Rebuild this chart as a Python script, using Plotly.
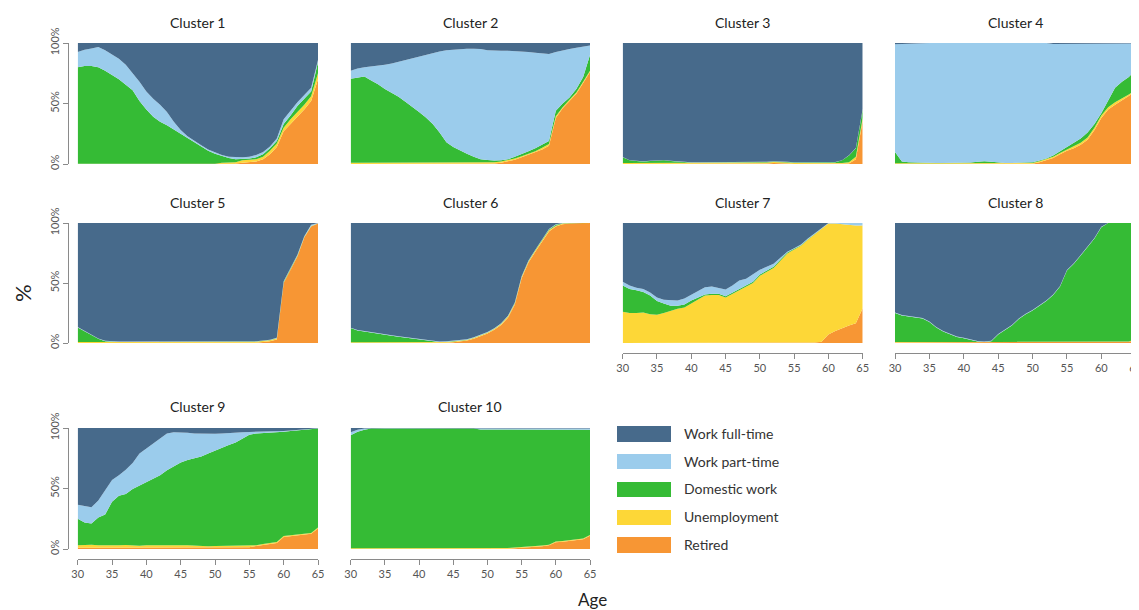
import numpy as np
import plotly.graph_objects as go

# ---------------- data (upper edges of each band, in %) -------------
ages = list(range(30, 66))
states = ["Retired", "Unemployment", "Domestic work", "Work part-time", "Work full-time"]
colors = {"Work full-time": "#476A8B", "Work part-time": "#9BCCEC", "Domestic work": "#35BB35",
          "Unemployment": "#FDD737", "Retired": "#F79634"}
legend_order = ["Work full-time", "Work part-time", "Domestic work", "Unemployment", "Retired"]
x_ticks = [30, 35, 40, 45, 50, 55, 60, 65]

c1_retired = [0,0,0,0,0,0,0,0,0,0, 0,0,0,0,0,0,0,0,0,0, 0,0,0,0.5,1,1.5,2,4,8,14, 27,33,39,45,52,70]
c1_unemp = [0.3,0.3,0.3,0.3,0.3,0.3,0.3,0.3,0.3,0.3, 0.3,0.3,0.3,0.3,0.3,0.3,0.3,0.3,0.3,0.3,
            0.3,1,1,1.5,3,3.5,4,6,11,17, 30,37,43,49,56,75]
c1_domestic = [80,81,81,80,77,73.5,70,65.5,61,52, 45,39,35,32,28.5,25,21.5,18,14.5,11,
               8.5,6.5,5,4,4,4.5,5.5,8,13,19, 33,40,48,54,60,84]
c1_parttime = [92.6,94.5,95.5,96.7,94,90.5,87,82,75,68, 60,54,49,43,35,28,23,19,15.5,12,
               9.5,7.5,6,5.5,5.5,6,7.5,10,14.5,21, 37,44,51,57,63,86]

c2_retired = [0,0,0,0,0,0,0,0,0,0, 0,0,0,0,0,0,0,0,0,0, 0,0.5,1,2,3.5,5.5,7.5,9.5,12,15, 38,46,52,58,67,76]
c2_unemp = [1,1,1,1,1,1,1,1,1,1, 1,1,1,1,1,1,1,1,1,1, 1,1.5,2,3,4.5,6.5,8.5,10.5,13.5,16.5,
            39.5,47,53,59,68,77]
c2_domestic = [70.4,71.5,72.4,69,66,62,59,55.5,51.5,47.5, 43,38.5,33,26,18,14,11,8.5,6,4,
               3.3,2.8,3,4,6,8,10.5,13,16,19, 44,50,55,62,72,90]
c2_parttime = [77,79,80,80.5,81,82,83,84.5,86,87.5, 89,90.5,91.5,93,94,94.5,95,95.3,95.3,95,
               94,93.5,93.5,93.5,93.3,93,92.5,92,91.3,91, 92.5,94,95,96,97,98]

c3_retired = [0,0,0,0,0,0,0,0,0,0, 0,0,0,0,0,0,0,0,0,0, 0.5,0.5,0.8,0.8,0.5,0,0,0,0,0, 0,0,0,0.5,4,36]
c3_unemp = [0.8,0.8,0.8,0.8,0.8,0.8,0.8,0.8,0.8,0.8, 0.8,0.8,0.8,0.8,0.8,0.8,0.8,0.8,0.8,0.8,
            1.3,1.3,1.6,1.6,1.3,0.8,0.8,0.8,0.8,0.8, 0.8,0.8,0.8,1.5,6,38]
c3_domestic = [5.5,3,2.5,2,2.5,3,3,2.5,2,1.5, 1.3,1.3,1.3,1.3,1.3,1.3,1.3,1.3,1.3,1.3,
               1.6,1.6,2,2,1.6,1.2,1.2,1.2,1.2,1.2, 1.2,1.5,3,7,13,45]
c3_parttime = [5.7,3.2,2.7,2.2,2.7,3.2,3.2,2.7,2.2,1.7, 1.5,1.5,1.5,1.5,1.5,1.5,1.5,1.5,1.5,1.5,
               1.8,1.8,2.2,2.2,1.8,1.4,1.4,1.4,1.4,1.4, 1.4,1.7,3.2,7.2,13.2,45.5]

c4_retired = [0,0,0,0,0,0,0,0,0,0, 0,0,0,0,0,0,0,0,0,0, 0.3,1.5,3,5,8,11,13,16,20,28, 38,45,49,52.5,56,60]
c4_unemp = [0.6,0.6,0.6,0.6,0.6,0.6,0.6,0.6,0.6,0.6, 0.6,0.6,0.6,0.6,0.6,0.6,0.6,0.6,0.6,0.6,
            0.9,2.2,3.8,6,9,12,14.5,17.5,22,30, 40,47,51,54,57.5,61]
c4_domestic = [10,2,1.5,1.2,1,0.9,0.8,0.8,0.8,0.8, 0.8,1.2,1.8,2.2,1.8,1.2,0.9,0.9,1,1.2,
               1.5,2.8,4.5,7,10.5,14,17,21,26,33, 42,53,63,68,72,77.5]
c4_parttime = [99,99.3,99.5,99.7,100,100,100,100,100,100, 100,100,100,100,100,100,100,100,100,100,
               100,100,100,99.2,99.2,99.2,99.2,99.2,99.2,99.2, 99.2,99.2,99.2,99.6,99.6,99.6]

c5_retired = [0,0,0,0,0,0,0,0,0,0, 0,0,0,0,0,0,0,0,0,0, 0,0,0,0,0,0,0.3,0.8,1.5,3, 50,61,72,88,97,99.5]
c5_unemp = [0.8,0.8,0.8,0.8,0.8,0.8,0.8,0.8,0.8,0.8, 0.8,0.8,0.8,0.8,0.8,0.8,0.8,0.8,0.8,0.8,
            0.8,0.8,0.8,0.8,0.8,0.8,1.1,1.6,2.3,3.8, 50.5,61.5,72.5,88.3,97.3,99.7]
c5_domestic = [13,10,6.5,3.5,1.5,0.9,0.9,0.9,0.9,0.9, 0.9,0.9,1,1,1,0.9,0.9,0.9,1,1,
               1,1.2,1.2,1,0.9,0.9,1.2,1.8,2.5,4, 51,62,73,88.6,97.6,99.8]
c5_parttime = [13.3,10.3,6.8,3.8,1.8,1.2,1.2,1.2,1.2,1.2, 1.2,1.2,1.3,1.3,1.3,1.2,1.2,1.2,1.3,1.3,
               1.3,1.5,1.5,1.3,1.2,1.2,1.5,2.1,2.8,4.3, 51.5,62.5,73.5,89,98.5,100]

c6_retired = [0,0,0,0,0,0,0,0,0,0, 0,0,0,0,0.3,0.7,1.2,2,3.5,5.5, 8,11,15,21,32,54,67,76,85,93,
              97,99,99.5,100,100,100]
c6_unemp = [0.6,0.6,0.6,0.6,0.6,0.6,0.6,0.6,0.6,0.6, 0.6,0.6,0.6,0.6,0.9,1.3,1.8,2.6,4.1,6.1,
            8.6,11.6,15.8,22,33,55,68,77,86,94, 97.8,99.5,99.8,100,100,100]
c6_domestic = [12.4,10.5,9.5,8.5,7.8,7,6,5.3,4.5,3.6, 2.8,2,1.3,0.8,1.1,1.5,2,2.8,4.3,6.3,
               8.8,11.8,16,22.3,33.3,55.3,68.3,77.4,86.5,94.5, 98.5,99.8,100,100,100,100]
c6_parttime = [12.8,10.9,9.9,8.9,8.2,7.4,6.4,5.7,4.9,4, 3.2,2.4,1.7,1.2,1.5,1.9,2.4,3.2,4.7,6.7,
               9.2,12.2,16.4,22.7,33.7,55.7,68.7,77.8,86.9,94.9, 98.9,100,100,100,100,100]

c7_retired = [0,0,0,0,0,0,0,0,0,0, 0,0,0,0,0,0,0,0,0,0, 0,0,0,0,0,0,0,0.3,0.5,1, 7,10,12.5,14.5,16.5,29]
c7_unemp = [26,25,25,25.5,24,23.5,25,27,28.5,29.5, 33,36.5,39.5,40,40,38,41,44,46.5,50,
            56,59.5,62.5,68.5,74.5,78,81,86,90.5,95, 99.5,99.5,99,98,98,98]
c7_domestic = [48,45,44,42.5,39.5,35,33,31,31,32, 35.5,38,40.5,41,41,39,42,45,47.5,51,
               57,60.5,63.5,69.5,75.5,78.5,81.5,86.5,91,95.5, 99.5,99.5,99,98,98,98]
c7_parttime = [51,48,46,45,42,38,36,35.5,35.5,37, 40,43,46.5,47,46,44.5,48,52,53.5,57,
               61,63.5,66,71,76,79,82,87,91.5,96, 100,100,100,100,100,100]

c8_retired = [0.5,0.5,0.5,0.5,0.5,0.5,0.5,0.5,0.5,0.5, 0.5,0.5,0.5,0.5,0.5,0.5,0.5,0.5,0.5,0.5,
              0.5,0.5,0.5,0.5,0.5,0.5,0.5,0.5,0.5,0.5, 0.5,0.5,0.5,0.5,1,2.5]
c8_unemp = [0.8,0.8,0.8,0.8,0.8,0.8,0.8,0.8,0.8,0.8, 0.8,0.8,0.8,0.8,0.8,0.8,0.8,0.8,0.8,0.8,
            0.8,0.8,0.8,0.8,0.8,0.8,0.8,0.8,0.8,0.8, 0.8,0.8,0.8,0.8,1.3,2.8]
c8_domestic = [25,23,22,21.5,20.5,17.5,13,9.5,7.5,5, 4,2.5,1.2,0.9,1.4,7,10.5,14.5,20,24,
               27,31,35,40,47,60.5,66,73,80.5,87, 96.5,100,100,100,100,100]
c8_parttime = [25.4,23.4,22.4,21.9,20.9,17.9,13.4,9.9,7.9,5.4, 4.4,2.9,1.6,1.3,1.8,7.4,10.9,14.9,20.4,24.4,
               27.4,31.4,35.4,40.4,47.4,60.9,66.4,73.4,80.9,87.4, 96.9,100,100,100,100,100]

c9_retired = [1,1,1,1,1,1,1,1,1,1, 1,1,1,1,1,1,1,1,1,1, 1,1,1,1,1,1.5,2.5,3.5,4.5,5, 10,10.5,11,11.5,12.5,17]
c9_unemp = [3,3.3,3.5,3,2.8,3.2,3,3.3,2.8,2.7, 3,3,2.8,2.5,2.8,3,3.2,2.8,2.2,2.2,
            2.5,2.6,2.5,2.4,2.5,2.5,3.2,4.2,5.2,5.7, 10.7,11.2,11.7,12.2,13.2,17.7]
c9_domestic = [25,22,21,26,28.5,39,44,45.5,49.5,52.5, 55,58,61,65,68.5,71.5,73.5,75,76.5,79,
               81.5,84,86,88,91.5,94.5,95.5,95.8,96,96.2, 97,97.5,98,98.5,99,99.5]
c9_parttime = [36.6,35.5,34.5,40,48,57,61,65.5,71,79, 83,87,91,95.5,96.5,96.5,96,95.5,95.3,95.3,
               95.3,95.5,96,96.2,96.5,96.7,96.8,97,97,97.2, 97.5,98,98.5,99,99.3,99.7]

c10_retired = [0,0,0,0,0,0,0,0,0,0, 0,0,0,0,0,0,0,0,0,0, 0,0,0,0.3,0.7,1,1.3,1.8,2.2,3, 5.5,6,6.5,7,8,11]
c10_unemp = [0.6,0.6,0.6,0.6,0.6,0.6,0.6,0.6,0.6,0.6, 0.6,0.6,0.6,0.6,0.6,0.6,0.6,0.6,0.6,0.6,
             0.6,0.6,0.6,0.9,1.3,1.6,1.9,2.4,2.8,3.6, 6.1,6.6,7.1,7.6,8.6,11.6]
c10_domestic = [94,97,98.5,99.5,99.5,99.5,99.5,99.5,99.5,99.5, 99.5,99.5,99.5,99.5,99.5,99.5,99.5,99.5,99.5,98.8,
                98.8,98.8,98.8,98.8,98.8,98.3,98.3,98.3,98.3,98.3, 98.3,98.6,98.6,98.6,98.6,98.6]
c10_parttime = [96.5,98.5,99.5,99.8,99.8,99.8,99.8,99.8,99.8,99.8, 99.8,99.8,99.8,99.8,99.8,99.8,99.8,99.8,99.8,99.6,
                99.6,99.6,99.6,99.6,99.6,99.6,99.6,99.6,99.6,99.6, 99.6,99.6,99.6,99.6,99.6,99.6]

clusters = [
    (c1_retired, c1_unemp, c1_domestic, c1_parttime),
    (c2_retired, c2_unemp, c2_domestic, c2_parttime),
    (c3_retired, c3_unemp, c3_domestic, c3_parttime),
    (c4_retired, c4_unemp, c4_domestic, c4_parttime),
    (c5_retired, c5_unemp, c5_domestic, c5_parttime),
    (c6_retired, c6_unemp, c6_domestic, c6_parttime),
    (c7_retired, c7_unemp, c7_domestic, c7_parttime),
    (c8_retired, c8_unemp, c8_domestic, c8_parttime),
    (c9_retired, c9_unemp, c9_domestic, c9_parttime),
    (c10_retired, c10_unemp, c10_domestic, c10_parttime),
]

# ---------------- layout geometry (window pixels) ----------------
WIN_W, WIN_H = 1139, 610
OFF = 8                      # the page body margin shifts the figure by 8 px
W, H = WIN_W - OFF, WIN_H - OFF
col_px = [(77.7, 318), (350.7, 590), (622.7, 862.7), (895, 1135.7)]
row_px = [(43, 164), (223, 343), (428, 549)]
title_y = [22, 202, 406]
cell = {1: (0, 0), 2: (0, 1), 3: (0, 2), 4: (0, 3), 5: (1, 0), 6: (1, 1), 7: (1, 2), 8: (1, 3),
        9: (2, 0), 10: (2, 1)}
with_x_axis = {7, 8, 9, 10}
with_y_axis = {1, 5, 9}

def fx(p):
    return (p - OFF) / W

def fy(p):
    return 1 - (p - OFF) / H

FONT = "Lato, 'Open Sans', sans-serif"
AXIS_COL = "#8a8a8a"
TICK_FONT = dict(family=FONT, size=11, color="#555555")

fig = go.Figure()
layout = {}
annotations = []

for k in range(1, 11):
    r, c = cell[k]
    R, U, D, P = clusters[k - 1]
    total = [100] * len(ages)
    edges = np.vstack([np.zeros(len(ages)), R, U, D, P, total]).astype(float)
    edges = np.clip(np.maximum.accumulate(edges, axis=0), 0, 100)
    shares = np.diff(edges, axis=0)
    sfx = "" if k == 1 else str(k)
    for i, name in enumerate(states):
        fig.add_trace(go.Scatter(
            x=ages, y=shares[i], mode="lines", line=dict(width=0, color=colors[name]),
            fillcolor=colors[name], stackgroup=f"c{k}", name=name, showlegend=False,
            hoverinfo="skip", xaxis=f"x{sfx}", yaxis=f"y{sfx}"))

    x0, x1 = col_px[c]
    ytop, ybot = row_px[r]
    xa = dict(domain=[fx(x0), fx(x1)], range=[30, 65], showgrid=False, zeroline=False,
              fixedrange=True, automargin=False)
    if k in with_x_axis:
        xa.update(anchor="free", position=fy(ybot + 10), showline=True, linecolor=AXIS_COL,
                  linewidth=1, ticks="outside", ticklen=5, tickcolor=AXIS_COL, tickwidth=1,
                  tickvals=x_ticks, tickfont=TICK_FONT, ticklabeloverflow="allow")
    else:
        xa.update(anchor=f"y{sfx}", showline=False, showticklabels=False, ticks="")
    ya = dict(domain=[fy(ybot), fy(ytop)], range=[0, 100], showgrid=False, zeroline=False,
              fixedrange=True, automargin=False)
    if k in with_y_axis:
        ya.update(anchor="free", position=fx(68), showline=True, linecolor=AXIS_COL,
                  linewidth=1, ticks="outside", ticklen=5, tickcolor=AXIS_COL, tickwidth=1,
                  tickvals=[0, 50, 100], ticktext=["0%", "50%", "100%"], tickangle=-90,
                  tickfont=TICK_FONT)
    else:
        ya.update(anchor=f"x{sfx}", showline=False, showticklabels=False, ticks="")
    layout[f"xaxis{sfx}"] = xa
    layout[f"yaxis{sfx}"] = ya
    annotations.append(dict(text=f"Cluster {k}", x=fx((x0 + x1) / 2), y=fy(title_y[r]),
                            xref="paper", yref="paper", showarrow=False, xanchor="center",
                            yanchor="middle", font=dict(family=FONT, size=14, color="#222222")))

# ---------------- legend drawn as a small bar chart ----------------
fig.add_trace(go.Bar(
    y=legend_order, x=[1] * len(legend_order), orientation="h", width=0.55,
    marker=dict(color=[colors[s] for s in legend_order], line=dict(width=0)),
    showlegend=False, hoverinfo="skip", xaxis="x11", yaxis="y11"))
layout["xaxis11"] = dict(domain=[fx(617), fx(671)], range=[0, 1], visible=False,
                         anchor="y11", fixedrange=True, automargin=False)
layout["yaxis11"] = dict(domain=[fy(434 + 27.75 * 4 + 13.9), fy(434 - 13.9)], anchor="x11",
                         side="right", categoryorder="array", categoryarray=legend_order,
                         autorange="reversed", showgrid=False, zeroline=False, showline=False,
                         ticks="", ticklabelstandoff=12, automargin=False,
                         tickfont=dict(family=FONT, size=14, color="#333333"), fixedrange=True)

annotations.append(dict(text="%", x=fx(22), y=fy(293), xref="paper", yref="paper",
                        showarrow=False, textangle=-90, xanchor="center", yanchor="middle",
                        borderpad=0, font=dict(family=FONT, size=22, color="#222222")))
annotations.append(dict(text="Age", x=fx(592), y=fy(599), xref="paper", yref="paper",
                        showarrow=False, xanchor="center", yanchor="middle",
                        font=dict(family=FONT, size=17, color="#222222")))

fig.update_layout(**layout)
fig.update_layout(width=W, height=H, margin=dict(l=0, r=0, t=0, b=0, autoexpand=False),
                  paper_bgcolor="white", plot_bgcolor="white", annotations=annotations,
                  showlegend=False, bargap=0)
fig.write_html("out.html")
